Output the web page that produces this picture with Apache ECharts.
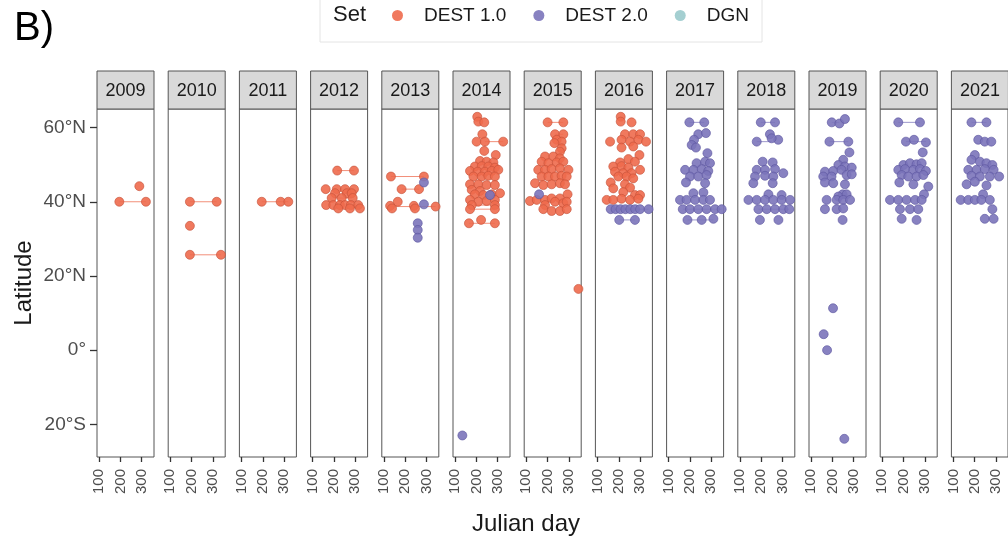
<!DOCTYPE html>
<html>
<head>
<meta charset="utf-8">
<script src="https://cdn.jsdelivr.net/npm/echarts@6/dist/echarts.min.js"></script>
<style>
  html, body { margin: 0; padding: 0; background: #fff; }
  #main { width: 1008px; height: 541px; }
</style>
</head>
<body>
<div id="main"></div>
<script>
// 年份（每个分面一个）
const years = [2009, 2010, 2011, 2012, 2013, 2014, 2015, 2016, 2017, 2018, 2019, 2020, 2021]
const setNames = ['DEST 1.0', 'DEST 2.0', 'DGN']
const setColors = ['#EE6A4C', '#7B74BA', '#8DC3C6']
const setBorders = ['#C65239', '#5C56A0', '#6FA5A8']
const dayTicks = [100, 200, 300]
const latTicks = [-20, 0, 20, 40, 60]

// DEST 1.0 点 [julian day, latitude]
const d1_2009 = [[195, 40], [320, 40], [289, 44.2]]
const d1_2010 = [[192, 40], [318, 40], [192, 33.5], [192, 25.7], [338, 25.7]]
const d1_2011 = [[195, 40], [284, 40], [320, 40]]
const d1_2012 = [[215, 48.4], [294, 48.4], [161, 43.4], [213, 43.4], [252, 43.4], [294, 43.4], [205, 42.3], [260, 42.3], [283, 42.3],
  [189, 41], [236, 41], [288, 41], [163, 39.1], [197, 39.1], [228, 39.1], [252, 39.1], [279, 39.1], [314, 39.1], [220, 38.2], [275, 38.2], [322, 38.2]]
const d1_2013 = [[133, 46.8], [288, 46.8], [183, 43.4], [265, 43.4], [165, 40.0], [129, 38.9], [138, 38.2], [241, 38.9], [246, 38.2], [343, 38.7]]
const d1_2014 = [[204, 62.9], [209, 61.6], [237, 61.4], [228, 58.2], [201, 56.2], [240, 56.2], [326, 56.2], [237, 53.7], [291, 52.6],
  [217, 51.0], [248, 50.8], [280, 50.6], [193, 49.5], [225, 49.6], [256, 49.5], [287, 49.2], [170, 48.3], [206, 48.1], [240, 48.1], [272, 48.3], [303, 48.6],
  [186, 46.8], [225, 46.8], [256, 47.0], [287, 46.8], [170, 44.7], [209, 44.7], [248, 44.5], [287, 44.5], [178, 43.2], [217, 42.9],
  [193, 42.0], [233, 41.8], [272, 42.0], [311, 42.3], [170, 40.5], [209, 40.0], [248, 40.2], [287, 40.5], [178, 39.1], [287, 39.1],
  [170, 38.0], [287, 38.0], [165, 34.2], [222, 35.1], [287, 34.2]]
const d1_2015 = [[200, 61.4], [274, 61.4], [235, 58.2], [274, 58.2], [243, 56.7], [266, 56.2], [232, 55.8], [266, 54.4], [258, 53.5],
  [188, 52.2], [227, 52.2], [258, 51.7], [172, 50.8], [204, 50.4], [243, 50.6], [274, 50.8], [156, 48.6], [188, 48.6], [219, 48.8], [258, 49.0], [298, 48.6],
  [172, 46.8], [204, 46.8], [235, 46.8], [266, 47.0], [290, 46.8], [141, 45.0], [180, 44.5], [219, 44.7], [258, 45.0], [282, 44.7],
  [117, 40.2], [149, 40.5], [188, 40.5], [219, 40.9], [258, 40.9], [294, 42.0], [188, 39.1], [235, 40.0], [274, 39.6], [290, 40.0],
  [180, 38.0], [219, 37.5], [258, 37.5], [290, 38.0], [345, 16.5]]
const d1_2016 = [[209, 62.9], [209, 61.6], [260, 61.4], [229, 58.2], [268, 58.2], [300, 58.2], [159, 56.2], [213, 56.7], [253, 56.2], [292, 56.7], [328, 56.2],
  [213, 54.6], [268, 54.9], [297, 52.6], [245, 51.5], [206, 50.6], [276, 50.8], [174, 49.5], [213, 49.6], [245, 49.2], [300, 48.6],
  [182, 48.1], [221, 47.7], [260, 47.7], [198, 46.8], [237, 46.8], [268, 46.3], [162, 45.2], [229, 44.7], [174, 43.6], [253, 43.8],
  [221, 42.6], [276, 41.8], [300, 41.8], [143, 40.5], [174, 40.5], [213, 40.8], [253, 40.5], [292, 40.8]]

// DEST 2.0 点
const d2_2013 = [[288, 45.2], [288, 39.3], [259, 34.2], [259, 32.4], [259, 30.3]]
const d2_2014 = [[264, 41.8], [134, -23.0]]
const d2_2015 = [[160, 42.0]]
const d2_2016 = [[162, 38], [185, 38], [208, 38], [231, 38], [254, 38], [277, 38], [300, 38], [340, 38], [202, 35.1], [276, 35.1]]
const d2_2017 = [[197, 61.4], [267, 61.4], [239, 58.2], [275, 58.5], [219, 56.7], [208, 55.3], [228, 54.6], [282, 53.1],
  [231, 50.4], [271, 50.8], [294, 50.4], [177, 48.6], [216, 48.6], [255, 48.8], [286, 48.3], [200, 46.8], [239, 46.8], [278, 47.2],
  [181, 45.2], [271, 45.0], [216, 42.3], [263, 42.5], [153, 40.5], [184, 40.5], [224, 40.5], [263, 40.5], [294, 40.5],
  [166, 38.0], [200, 38.0], [239, 38.0], [278, 38.0], [318, 38.0], [349, 38.0], [188, 35.1], [255, 35.1], [310, 35.4]]
const d2_2018 = [[198, 61.4], [265, 61.4], [241, 58.2], [280, 56.7], [179, 56.2], [249, 57.1], [207, 50.8], [254, 50.6],
  [179, 48.6], [218, 48.6], [265, 48.8], [171, 46.8], [218, 47.0], [257, 46.8], [304, 47.7], [163, 45.0], [254, 45.0], [234, 42.0], [296, 41.8],
  [140, 40.5], [179, 40.5], [218, 40.5], [257, 40.5], [296, 40.5], [336, 40.5], [187, 38.0], [226, 38.0], [265, 38.0], [304, 38.0], [332, 38.0],
  [194, 35.1], [281, 35.1]]
const d2_2019 = [[197, 61.4], [233, 61.1], [259, 62.3], [186, 56.2], [275, 56.2], [280, 53.3], [251, 51.3], [228, 49.9], [259, 49.5],
  [165, 48.1], [204, 48.3], [243, 48.6], [291, 49.2], [157, 46.8], [196, 46.8], [267, 47.2], [291, 47.4], [165, 45.2], [204, 45.0], [259, 44.7],
  [248, 42.0], [228, 41.4], [267, 42.0], [173, 40.5], [220, 40.5], [251, 40.5], [283, 40.5], [165, 38.0], [220, 38.0], [251, 38.2], [248, 35.1],
  [203, 11.3], [159, 4.3], [175, 0.0], [256, -23.9]]
const d2_2020 = [[175, 61.4], [277, 61.4], [211, 56.2], [249, 56.7], [305, 56.0], [290, 53.3], [199, 49.9], [230, 50.4], [261, 50.1], [285, 50.4],
  [175, 48.6], [207, 48.8], [246, 48.6], [277, 48.8], [305, 48.3], [191, 47.2], [222, 46.8], [261, 46.8], [293, 47.2], [180, 45.2], [246, 44.7], [316, 44.1],
  [296, 42.0], [136, 40.5], [175, 40.5], [214, 40.5], [254, 40.5], [285, 40.5], [183, 38.0], [230, 38.0], [269, 38.0], [191, 35.4], [261, 35.1]]
const d2_2021 = [[185, 61.4], [256, 61.4], [217, 56.7], [248, 56.2], [279, 56.2], [201, 52.6], [185, 51.3], [225, 50.8], [256, 50.4], [284, 49.9],
  [170, 48.6], [209, 48.6], [248, 48.8], [290, 48.6], [185, 47.0], [225, 46.8], [272, 46.8], [316, 46.8], [162, 44.7], [201, 45.4], [256, 44.4],
  [240, 42.0], [134, 40.5], [170, 40.5], [201, 40.5], [232, 40.5], [272, 40.5], [284, 38.0], [248, 35.4], [290, 35.4]]

// 同一地点的连线 [year, set, latitude, day1, day2]
const segments = [
  [2009, 0, 40, 195, 320], [2010, 0, 40, 192, 318], [2010, 0, 25.7, 192, 338], [2011, 0, 40, 195, 320],
  [2012, 0, 48.4, 215, 294], [2012, 0, 41, 205, 283],
  [2013, 0, 46.8, 133, 288], [2013, 0, 43.4, 183, 265], [2013, 0, 38.7, 129, 343],
  [2014, 0, 56.2, 240, 326], [2014, 0, 34.2, 165, 287], [2014, 0, 39.1, 178, 287], [2014, 0, 38.0, 170, 287],
  [2015, 0, 61.4, 200, 274], [2015, 0, 58.2, 235, 274],
  [2016, 1, 38.0, 162, 340], [2016, 1, 35.1, 202, 276],
  [2017, 1, 61.4, 197, 267], [2017, 1, 38.0, 166, 349], [2017, 1, 35.1, 188, 310],
  [2018, 1, 61.4, 198, 265], [2018, 1, 56.2, 179, 249], [2018, 1, 38.0, 187, 332],
  [2019, 1, 56.2, 186, 275], [2019, 1, 61.4, 197, 233],
  [2020, 1, 61.4, 175, 277], [2020, 1, 56.2, 211, 305],
  [2021, 1, 61.4, 185, 256]
]

const dest1 = [d1_2009, d1_2010, d1_2011, d1_2012, d1_2013, d1_2014, d1_2015, d1_2016, [], [], [], [], []]
const dest2 = [[], [], [], [], d2_2013, d2_2014, d2_2015, d2_2016, d2_2017, d2_2018, d2_2019, d2_2020, d2_2021]

const chart = echarts.init(document.getElementById('main'))
const font = 'Liberation Sans, Arial, Helvetica, sans-serif'

// 布局
const panelLeft = 97, panelStep = 71.2, panelW = 57, panelTop = 109, panelH = 348, stripTop = 71

const latLabel = v => v > 0 ? v + '°N' : (v < 0 ? (-v) + '°S' : '0°')

const grids = [], xAxes = [], yAxes = [], series = [], graphics = []

years.forEach((yr, i) => {
  const left = panelLeft + i * panelStep
  grids.push({ left: left, top: panelTop, width: panelW, height: panelH, show: true, borderColor: '#555', borderWidth: 1, backgroundColor: '#fff' })
  xAxes.push({
    gridIndex: i, type: 'value', min: 90, max: 358,
    splitLine: { show: false },
    axisLine: { show: false, onZero: false },
    axisTick: { show: true, length: 5, customValues: dayTicks, lineStyle: { color: '#333', width: 1.3 } },
    axisLabel: { customValues: dayTicks, rotate: 90, fontSize: 15, color: '#4d4d4d', fontFamily: font, margin: 12 }
  })
  yAxes.push({
    gridIndex: i, type: 'value', min: -28.8, max: 65,
    splitLine: { show: false },
    axisLine: { show: false, onZero: false },
    axisTick: { show: i === 0, length: 7, customValues: latTicks, lineStyle: { color: '#333', width: 1.3 } },
    axisLabel: { show: i === 0, customValues: latTicks, formatter: latLabel, fontSize: 19, color: '#4d4d4d', fontFamily: font, margin: 11 }
  })
  // 分面标题条
  graphics.push({
    type: 'rect', shape: { x: left, y: stripTop, width: panelW, height: panelTop - stripTop },
    style: { fill: '#d9d9d9', stroke: '#555', lineWidth: 1 }
  })
  graphics.push({
    type: 'text', x: left + panelW / 2, y: (stripTop + panelTop) / 2 + 1,
    style: { text: String(yr), fill: '#1a1a1a', font: '18px ' + font, textAlign: 'center', textVerticalAlign: 'middle' }
  })
})

// 连线
segments.forEach(s => {
  const i = years.indexOf(s[0])
  series.push({
    type: 'line', xAxisIndex: i, yAxisIndex: i, silent: true, showSymbol: false, symbol: 'none', z: 1,
    data: [[s[3], s[2]], [s[4], s[2]]],
    lineStyle: { color: setColors[s[1]], width: 1, opacity: 0.75 }
  })
})

// 点
years.forEach((yr, i) => {
  [dest1[i], dest2[i]].forEach((pts, k) => {
    if (!pts.length) return
    series.push({
      name: setNames[k], type: 'scatter', xAxisIndex: i, yAxisIndex: i, z: 3,
      data: pts, symbolSize: 9,
      itemStyle: { color: setColors[k], borderColor: setBorders[k], borderWidth: 0.7, opacity: 0.9 }
    })
  })
})
// DGN 仅在图例中出现
series.push({ name: 'DGN', type: 'scatter', xAxisIndex: 0, yAxisIndex: 0, data: [], itemStyle: { color: setColors[2] } })

// 图例框、标题、轴名
graphics.unshift({ type: 'rect', shape: { x: 320, y: -6, width: 442, height: 48 }, style: { fill: '#fff', stroke: '#e4e4e4', lineWidth: 1 }, z: -1 })
graphics.push({ type: 'text', x: 333, y: 15, style: { text: 'Set', fill: '#1a1a1a', font: '22px ' + font, textVerticalAlign: 'middle' } })
graphics.push({ type: 'text', x: 14, y: 29, style: { text: 'B)', fill: '#000', font: '40px ' + font, textVerticalAlign: 'middle' } })
graphics.push({ type: 'text', x: 526, y: 524, style: { text: 'Julian day', fill: '#1a1a1a', font: '24px ' + font, textAlign: 'center', textVerticalAlign: 'middle' } })
graphics.push({ type: 'text', x: 24, y: 283, rotation: Math.PI / 2, style: { text: 'Latitude', fill: '#1a1a1a', font: '24px ' + font, textAlign: 'center', textVerticalAlign: 'middle' } })

const options = {
  animation: false,
  backgroundColor: '#fff',
  legend: {
    data: setNames.map((n, k) => ({ name: n, itemStyle: { color: setColors[k], borderWidth: 0 } })),
    left: 387, top: 1, icon: 'circle', itemWidth: 11, itemHeight: 11, itemGap: 27,
    selectedMode: false,
    textStyle: { fontSize: 19, color: '#1a1a1a', fontFamily: font, padding: [0, 0, 0, 16] }
  },
  grid: grids,
  xAxis: xAxes,
  yAxis: yAxes,
  series: series,
  graphic: graphics
}
chart.setOption(options)
</script>
</body>
</html>
